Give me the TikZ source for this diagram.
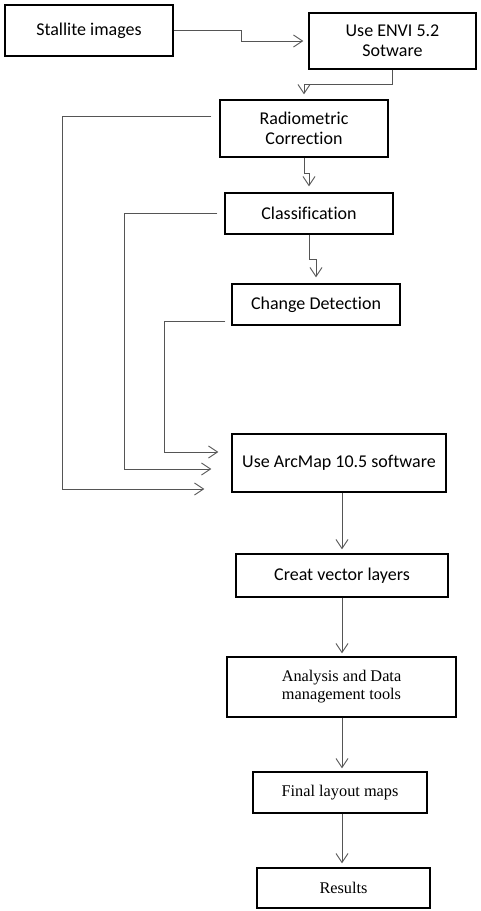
\documentclass[tikz,border=0pt]{standalone}
\usepackage{fontspec}
\setmainfont{Carlito}[Ligatures=NoCommon]
\newfontfamily\serifface{Liberation Serif}
\usetikzlibrary{arrows.meta,calc}
\definecolor{linegray}{HTML}{555555}
\tikzset{
  box/.style={draw=black, line width=1.4pt, rectangle, inner sep=0pt, align=center, font=\fontsize{18}{20}\selectfont},
  sbox/.style={box, font=\serifface\fontsize{16.3}{18}\selectfont},
  arr/.style={draw=linegray, line width=0.9pt, -{Straight Barb[length=9pt,width=12pt,line width=0.9pt]}},
}
\begin{document}
\begin{tikzpicture}[x=1pt,y=-1pt]
\useasboundingbox (0,0) rectangle (480,911);
\node[box, minimum width=168pt, minimum height=51pt] (b1) at (89,30.5) {Stallite images};
\node[box, minimum width=167pt, minimum height=56pt] (b2) at (392.5,41) {Use ENVI 5.2\\Sotware};
\node[box, minimum width=168pt, minimum height=57pt] (b3) at (304,128.5) {Radiometric\\Correction};
\node[box, minimum width=168pt, minimum height=41pt] (b4) at (309,213.5) {Classification};
\node[box, minimum width=168pt, minimum height=41pt] (b5) at (316,304.5) {Change Detection};
\node[box, minimum width=214pt, minimum height=58pt] (b6) at (339,463) {Use ArcMap 10.5 software};
\node[box, minimum width=212pt, minimum height=43pt] (b7) at (342,575.5) {Creat vector layers};
\node[sbox, minimum width=229pt, minimum height=60pt] (b8) at (341.5,687) {Analysis and Data\\management tools};
\node[sbox, minimum width=174pt, minimum height=41pt] (b9) at (340,792.5) {Final layout maps};
\node[sbox, minimum width=173pt, minimum height=40pt] (b10) at (343.5,888) {Results};

\draw[arr] (b1.east) -- ++(68,0) |- ([xshift=-5pt]b2.west);
\draw[arr] (b2.south) -- ++(0,15) -| ([yshift=5pt]b3.north);
\draw[arr] (b3.south) -- ++(0,16) -| ([yshift=6pt]b4.north);
\draw[arr] (b4.south) -- ++(0,25) -| ([yshift=6pt]b5.north);

\draw[arr] ([shift={(-8pt,12.5pt)}]b3.west) -- ++(-149,0) |- ([shift={(-27pt,-26pt)}]b6.west);
\draw[arr] ([xshift=-7pt]b4.west) -- ++(-93,0) |- ([shift={(-20pt,-6pt)}]b6.west);
\draw[arr] ([shift={(-6pt,-16.5pt)}]b5.west) -- ++(-61,0) |- ([shift={(-13pt,11pt)}]b6.west);

\draw[arr, shorten >=4pt] (b6.south -| b7.north) -- (b7.north);
\draw[arr, shorten >=3pt] (b7.south) -- (b7.south |- b8.north);
\draw[arr, shorten >=3pt] (b8.south -| b7.south) -- (b7.south |- b9.north);
\draw[arr, shorten >=4pt] (b9.south -| b7.south) -- (b7.south |- b10.north);
\end{tikzpicture}
\end{document}
